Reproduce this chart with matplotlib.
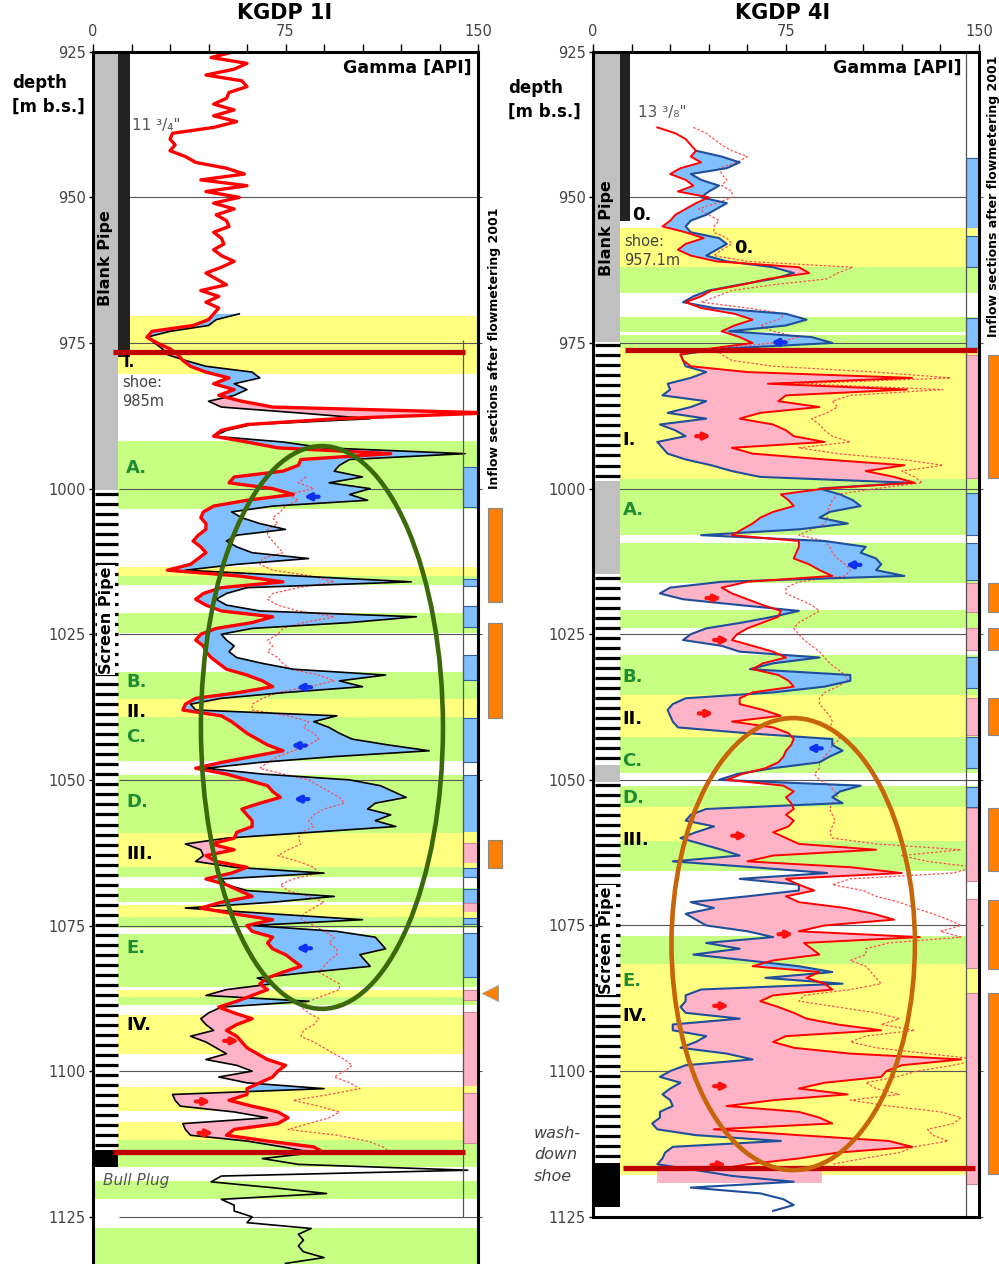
import numpy as np
import matplotlib.pyplot as plt
from matplotlib.patches import Ellipse

plt.rcParams['font.family'] = ['DejaVu Sans']

# colours used in both logs
YELLOW = '#FFFF80'
GREEN = '#C6FF82'
BLUE = '#80C0FF'
PINK = '#FFB3C6'
GRAY = '#C0C0C0'
ORANGE = '#FF8000'
DARKRED = '#C00000'
LABEL_GREEN = '#1E8C32'
band_colours = {'y': YELLOW, 'g': GREEN}
cell_colours = {'b': BLUE, 'p': PINK, 'y': YELLOW}
cell_edges = {'b': '#3060A0', 'p': '#D08898', 'y': YELLOW}

# ================= KGDP 1I =================
# gamma logs, one sample per metre, first sample depth given by *_top
k1_red_top = 924
k1_red = [59, 55, 46, 60, 55, 44, 58, 60, 53, 52,
          47, 55, 47, 56, 47, 31, 30, 32, 30, 36,
          40, 52, 59, 42, 60, 44, 57, 47, 55, 48,
          52, 53, 47, 50, 51, 47, 50, 55, 50, 44,
          48, 52, 42, 49, 44, 49, 47, 45, 39, 23,
          21, 25, 30, 33, 35, 38, 44, 53, 47, 55,
          49, 58, 70, 155, 95, 60, 50, 47, 60, 72,
          116, 81, 80, 74, 55, 53, 70, 78, 60, 47,
          43, 42, 44, 44, 41, 39, 42, 44, 41, 38,
          29, 57, 74, 50, 43, 40, 44, 50, 70, 62,
          48, 42, 40, 43, 44, 46, 49, 52, 60, 66,
          70, 57, 40, 36, 35, 50, 54, 57, 60, 64,
          68, 74, 62, 50, 40, 52, 60, 68, 70, 73,
          65, 58, 60, 62, 62, 56, 55, 46, 55, 44,
          48, 60, 54, 44, 52, 57, 62, 50, 42, 55,
          70, 60, 62, 70, 68, 70, 75, 78, 81, 74,
          68, 65, 68, 62, 56, 49, 55, 62, 56, 52,
          56, 58, 60, 64, 68, 75, 72, 70, 65, 60,
          60, 53, 62, 72, 76, 72, 55, 52, 68, 86, 90]
k1_black_top = 970
k1_black = [57, 48, 45, 30, 21, 24, 27, 29, 36, 44,
            62, 65, 55, 60, 55, 45, 50, 80, 108, 62,
            52, 47, 74, 90, 145, 100, 96, 94, 105, 92,
            108, 100, 107, 70, 54, 58, 65, 75, 56, 52,
            56, 62, 84, 56, 36, 80, 124, 60, 52, 48,
            52, 65, 126, 100, 62, 50, 52, 55, 53, 56,
            66, 78, 114, 96, 105, 75, 50, 38, 40, 95,
            86, 92, 96, 101, 115, 131, 94, 65, 44, 66,
            100, 112, 117, 122, 110, 107, 116, 110, 118, 85,
            52, 36, 42, 43, 40, 55, 90, 50, 52, 60,
            94, 70, 36, 70, 105, 62, 95, 110, 112, 114,
            104, 106, 108, 85, 64, 70, 52, 44, 84, 50,
            45, 42, 44, 47, 38, 44, 48, 52, 44, 56,
            62, 49, 60, 90, 31, 32, 34, 55, 68, 35,
            36, 38, 60, 74, 86, 66, 80, 146, 50, 46,
            70, 91, 50, 55, 55, 62, 60, 85, 80, 82,
            80, 82, 90, 75]
k1_dot_top = 998
k1_dot = [83, 80, 86, 76, 80, 75, 73, 70, 72, 68,
          68, 70, 72, 74, 66, 65, 70, 85, 94, 80,
          70, 68, 72, 80, 94, 82, 74, 72, 68, 70,
          68, 72, 74, 77, 88, 94, 84, 72, 66, 62,
          62, 76, 84, 82, 86, 88, 84, 78, 72, 68,
          65, 74, 84, 88, 92, 96, 98, 90, 86, 84,
          86, 81, 80, 81, 76, 72, 80, 86, 88, 78,
          73, 76, 84, 90, 86, 82, 81, 86, 90, 94,
          92, 95, 95, 92, 90, 88, 92, 96, 96, 90,
          84, 81, 84, 88, 86, 82, 81, 86, 90, 94,
          98, 101, 98, 94, 100, 104, 92, 78, 88, 96,
          92, 84, 76, 95, 107, 113, 116]

# lithology bands
k1_band_top = [970.4, 991.8, 1013.5, 1015.0, 1021.4, 1031.5, 1036.1, 1039.2, 1049.1, 1059.2, 1064.9,
               1068.6, 1071.5, 1073.5, 1076.4, 1086.1, 1087.3, 1090.4, 1102.8, 1108.8, 1111.9,
               1118.8, 1127.0]
k1_band_bot = [980.3, 1003.5, 1015.0, 1016.6, 1024.8, 1036.1, 1039.2, 1046.8, 1059.2, 1064.9, 1066.6,
               1070.9, 1073.5, 1075.5, 1085.5, 1087.3, 1088.7, 1097.0, 1106.8, 1111.9, 1116.5,
               1122.0, 1134.0]
k1_band_col = ['y', 'g', 'y', 'g', 'g', 'g', 'y', 'g', 'g', 'y', 'g',
               'g', 'y', 'g', 'g', 'y', 'g', 'y', 'y', 'y', 'g',
               'g', 'g']

# inflow cells in the right column
k1_cell_top = [996.3, 1015.5, 1020.1, 1028.6, 1036.3, 1039.4, 1049.1, 1058.9, 1060.8, 1064.3, 1065.1,
               1068.8, 1071.2, 1072.7, 1073.7, 1076.3, 1086.0, 1089.9, 1102.5, 1103.7]
k1_cell_bot = [1003.1, 1016.7, 1023.8, 1032.9, 1039.4, 1046.9, 1058.9, 1060.8, 1064.3, 1065.1, 1066.7,
               1071.2, 1072.7, 1073.7, 1074.8, 1083.9, 1087.7, 1102.5, 1103.7, 1112.3]
k1_cell_col = ['b', 'b', 'b', 'b', 'y', 'b', 'b', 'y', 'p', 'y', 'b',
               'b', 'p', 'y', 'b', 'b', 'p', 'p', 'y', 'p']

# inflow sections after flowmetering 2001
k1_flow_top = [1003.3, 1023.1, 1060.3]
k1_flow_bot = [1019.5, 1039.3, 1065.1]

# completion column
k1_pipe_top = [925.0, 1000.3, 1113.6]
k1_pipe_bot = [1000.3, 1113.6, 1116.5]
k1_pipe_kind = ['blank', 'screen', 'plug']

# zone labels
k1_zone_text = ['I.', 'A.', 'B.', 'II.', 'C.', 'D.', 'III.', 'E.', 'IV.']
k1_zone_depth = [978.3, 996.5, 1033.2, 1038.4, 1042.6, 1053.8, 1062.7, 1078.9, 1092.1]
k1_zone_x = [12.0, 13.0, 13.0, 13.0, 13.0, 13.0, 13.0, 13.0, 13.0]

# flow arrows
k1_arrow_depth = [1001.4, 1034.1, 1044.1, 1053.3, 1078.9, 1094.8, 1105.2, 1110.6]
k1_arrow_x = [85, 82, 80, 81, 82, 54, 43, 44]
k1_arrow_dir = ['L', 'L', 'L', 'L', 'L', 'R', 'R', 'R']

# ================= KGDP 4I =================
k4_red_top = 938
k4_red = [25, 32, 36, 38, 40, 38, 42, 34, 30, 36,
          39, 33, 45, 40, 36, 32, 30, 27, 36, 43,
          36, 33, 38, 48, 80, 84, 68, 58, 46, 42,
          36, 42, 55, 62, 55, 50, 57, 62, 45, 34,
          35, 38, 60, 124, 68, 122, 75, 72, 88, 65,
          57, 70, 75, 78, 90, 54, 62, 90, 121, 106,
          117, 125, 90, 73, 76, 78, 70, 65, 62, 58,
          54, 80, 80, 79, 78, 84, 88, 93, 60, 50,
          54, 60, 66, 73, 72, 66, 60, 56, 54, 62,
          70, 75, 66, 62, 72, 76, 78, 62, 57, 57,
          66, 73, 54, 70, 76, 78, 77, 75, 74, 72,
          67, 58, 52, 74, 78, 75, 77, 78, 75, 78,
          76, 70, 75, 80, 110, 70, 60, 100, 120, 75,
          80, 86, 75, 80, 98, 109, 117, 90, 80, 127,
          82, 85, 88, 70, 62, 88, 83, 90, 93, 70,
          65, 72, 78, 83, 95, 112, 75, 70, 78, 100,
          143, 120, 114, 112, 90, 80, 99, 70, 52, 80,
          88, 93, 47, 80, 115, 124, 95, 80, 60, 47]
k4_blue_top = 942
k4_blue = [40, 50, 57, 52, 38, 42, 49, 45, 42, 52,
           48, 44, 38, 36, 38, 49, 52, 48, 44, 52,
           70, 78, 70, 57, 45, 39, 35, 47, 75, 83,
           75, 53, 85, 93, 50, 34, 35, 36, 44, 38,
           29, 30, 27, 44, 38, 29, 44, 26, 32, 36,
           25, 27, 29, 36, 46, 54, 65, 123, 88, 96,
           101, 104, 92, 88, 99, 80, 42, 90, 106, 104,
           110, 112, 110, 121, 50, 30, 26, 35, 57, 80,
           70, 58, 44, 38, 35, 50, 57, 88, 70, 61,
           100, 100, 90, 70, 36, 31, 29, 30, 31, 33,
           60, 93, 93, 97, 92, 88, 70, 56, 49, 104,
           96, 93, 97, 44, 38, 36, 47, 40, 34, 42,
           50, 57, 31, 62, 91, 57, 80, 80, 60, 38,
           47, 36, 40, 44, 60, 70, 44, 57, 39, 60,
           80, 93, 67, 97, 42, 36, 36, 34, 36, 57,
           31, 31, 44, 40, 34, 52, 62, 36, 30, 26,
           34, 30, 27, 30, 31, 26, 26, 23, 25, 40,
           73, 31, 28, 27, 25, 40, 54, 78, 38, 65,
           74, 78, 70]
k4_dot_top = 938
k4_dot = [39, 44, 47, 50, 54, 60, 56, 49, 50, 52,
          50, 54, 54, 48, 41, 45, 49, 47, 47, 52,
          54, 50, 47, 60, 101, 95, 91, 70, 54, 48,
          42, 60, 75, 72, 65, 70, 80, 70, 47, 50,
          54, 70, 110, 139, 80, 136, 100, 93, 95, 91,
          85, 88, 90, 93, 100, 80, 95, 120, 136, 120,
          125, 128, 110, 95, 93, 92, 91, 91, 90, 85,
          80, 90, 92, 93, 95, 98, 100, 98, 80, 75,
          75, 80, 85, 88, 84, 80, 78, 80, 82, 85,
          88, 90, 92, 95, 98, 99, 95, 90, 88, 88,
          90, 92, 93, 92, 94, 96, 93, 92, 90, 88,
          88, 86, 88, 92, 94, 95, 93, 92, 93, 94,
          93, 92, 93, 110, 143, 120, 130, 148, 140, 100,
          93, 105, 110, 119, 125, 132, 138, 143, 135, 143,
          115, 106, 106, 100, 106, 108, 110, 112, 100, 82,
          80, 95, 110, 119, 112, 125, 106, 100, 110, 130,
          150, 140, 126, 118, 106, 110, 119, 100, 115, 135,
          143, 140, 130, 132, 138, 125, 119, 105, 93]

k4_band_top = [955.2, 961.9, 970.5, 973.6, 975.8, 998.3, 1009.3, 1020.8, 1028.6, 1035.5, 1042.7,
               1051.0, 1054.6, 1060.5, 1076.8, 1081.6]
k4_band_bot = [961.9, 966.4, 973.1, 975.8, 998.3, 1007.9, 1016.2, 1023.9, 1035.5, 1042.7, 1048.9,
               1054.6, 1060.5, 1065.6, 1081.6, 1117.9]
k4_band_col = ['y', 'g', 'g', 'g', 'y', 'g', 'g', 'g', 'g', 'y', 'g',
               'g', 'y', 'g', 'g', 'y']

k4_cell_top = [943.3, 955.2, 956.6, 970.8, 977.0, 1000.7, 1009.3, 1016.2, 1023.9, 1028.9, 1036.0,
               1042.7, 1051.3, 1054.9, 1070.4, 1086.6]
k4_cell_bot = [955.2, 956.6, 961.9, 975.8, 998.1, 1007.9, 1015.7, 1021.2, 1027.7, 1034.3, 1042.3,
               1048.0, 1054.7, 1067.3, 1082.3, 1119.4]
k4_cell_col = ['b', 'y', 'b', 'b', 'p', 'b', 'b', 'p', 'p', 'b', 'p',
               'b', 'b', 'p', 'p', 'p']

k4_flow_top = [977.0, 1016.2, 1023.9, 1036.0, 1054.9, 1070.7, 1086.6]
k4_flow_bot = [998.1, 1021.2, 1027.7, 1042.3, 1065.6, 1082.4, 1117.7]

k4_pipe_top = [925.0, 974.8, 998.7, 1014.7, 1047.5, 1050.3, 1115.8]
k4_pipe_bot = [974.8, 998.7, 1014.7, 1047.5, 1050.3, 1115.8, 1123.3]
k4_pipe_kind = ['blank', 'screen', 'blank', 'screen', 'blank', 'screen', 'plug']

k4_zone_text = ['I.', 'A.', 'B.', 'II.', 'C.', 'D.', 'III.', 'E.', 'IV.']
k4_zone_depth = [991.7, 1003.7, 1032.3, 1039.5, 1046.7, 1053.2, 1060.3, 1084.5, 1090.5]
k4_zone_x = [11.5, 11.5, 11.5, 11.5, 11.5, 11.5, 11.5, 11.5, 11.5]

k4_arrow_depth = [974.9, 1013.1, 1044.6, 991.0, 1018.8, 1026.0, 1038.6, 1059.6, 1076.5, 1088.8,
                  1102.6, 1116.1]
k4_arrow_x = [72, 101, 86, 43, 47, 50, 44, 57, 75, 50, 50, 49]
k4_arrow_dir = ['L', 'L', 'L', 'R', 'R', 'R', 'R', 'R', 'R', 'R', 'R', 'R']


def overlap(top_a, a, top_b, b):
    """Return common depths and the two logs cut to them."""
    lo = max(top_a, top_b)
    hi = min(top_a + len(a) - 1, top_b + len(b) - 1)
    d = np.arange(lo, hi + 1)
    va = np.array(a[lo - top_a:hi - top_a + 1], dtype=float)
    vb = np.array(b[lo - top_b:hi - top_b + 1], dtype=float)
    return d, va, vb


def setup_axis(ax, bottom):
    ax.set_xlim(0, 150)
    ax.set_ylim(bottom, 925)
    ax.xaxis.tick_top()
    ax.set_xticks([0, 75, 150])
    ax.set_xticks(np.arange(0, 151, 15), minor=True)
    ax.tick_params(axis='x', which='both', direction='out', length=6, width=1,
                   labelsize=10.5, labelcolor='#444', pad=3)
    ax.set_yticks(np.arange(925, 1126, 25))
    ax.tick_params(axis='y', direction='out', length=3, width=1,
                   labelsize=10.5, labelcolor='#444', pad=2)
    for s in ax.spines.values():
        s.set_linewidth(2.2)
        s.set_zorder(20)


def draw_common(ax, band_top, band_bot, band_col, cell_top, cell_bot, cell_col, col_x,
                pipe_top, pipe_bot, pipe_kind, pipe_w):
    # lithology bands
    ax.barh(band_top, 150, height=np.subtract(band_bot, band_top), left=0, align='edge',
            color=[band_colours[c] for c in band_col], linewidth=0, zorder=0.5)
    # depth grid
    ax.hlines(np.arange(950, 1126, 25), 10, 151.5, color='#555', lw=0.8, zorder=1.5, clip_on=False)
    # inflow column
    ax.barh(cell_top, 150 - col_x, height=np.subtract(cell_bot, cell_top), left=col_x, align='edge',
            color=[cell_colours[c] for c in cell_col], edgecolor=[cell_edges[c] for c in cell_col],
            linewidth=0.8, zorder=4)
    # completion column
    for t, b, k in zip(pipe_top, pipe_bot, pipe_kind):
        if k == 'blank':
            ax.barh(t, pipe_w, height=b - t, left=0, align='edge', color=GRAY, lw=0, zorder=4)
        elif k == 'plug':
            ax.barh(t, pipe_w, height=b - t, left=0, align='edge', color='black', lw=0, zorder=4)
        else:
            ax.barh(t, pipe_w, height=b - t, left=0, align='edge', color='white', lw=0, zorder=4)
            ax.hlines(np.arange(t + 0.6, b, 1.72), 0.6, pipe_w, color='black', lw=2.3, zorder=4.1)


def draw_arrows(ax, depths, xs, dirs):
    for d, x, k in zip(depths, xs, dirs):
        if k == 'R':
            ax.annotate('', xy=(x + 4, d), xytext=(x - 4, d), zorder=6,
                        arrowprops=dict(arrowstyle='-|>', color='#FF1010', lw=3, mutation_scale=9))
        else:
            ax.annotate('', xy=(x - 4, d), xytext=(x + 4, d), zorder=6,
                        arrowprops=dict(arrowstyle='-|>', color='#1030F0', lw=3, mutation_scale=9))


def draw_flow_bars(ax, tops, bots, x0, w):
    bars = ax.barh(tops, w, height=np.subtract(bots, tops), left=x0, align='edge',
                   color=ORANGE, edgecolor='#888', linewidth=0.8, zorder=5)
    for p in bars:
        p.set_clip_on(False)


pipe_box = dict(facecolor='white', edgecolor='none', pad=1.0)

fig = plt.figure(figsize=(9.99, 12.64), dpi=100)
ax1 = fig.add_axes([93 / 999, 0, 385 / 999, (1264 - 51.7) / 1264])
ax2 = fig.add_axes([593 / 999, (1264 - 1216.7) / 1264, 386 / 999, 1165 / 1264])

# ---------------- KGDP 1I ----------------
setup_axis(ax1, 1133.1)
ax1.spines['bottom'].set_visible(False)
draw_common(ax1, k1_band_top, k1_band_bot, k1_band_col, k1_cell_top, k1_cell_bot, k1_cell_col, 144.1,
            k1_pipe_top, k1_pipe_bot, k1_pipe_kind, 9.7)
ax1.vlines(144.1, 974.5, 1125, color='#555', lw=0.9, zorder=4.5)
ax1.barh(925, 4.7, height=52.4, left=9.7, align='edge', color='#222', lw=0, zorder=4.2)

d, r, k = overlap(k1_red_top, k1_red, k1_black_top, k1_black)
ax1.fill_betweenx(d, r, k, where=k >= r, interpolate=True, color=BLUE, lw=0, zorder=2)
ax1.fill_betweenx(d, r, k, where=k <= r, interpolate=True, color=PINK, lw=0, zorder=2)
ax1.plot(k1_dot, np.arange(len(k1_dot)) + k1_dot_top, color='#FF5050', lw=0.9,
         ls=(0, (2, 1.5)), zorder=2.5)
ax1.plot(k1_black, np.arange(len(k1_black)) + k1_black_top, color='black', lw=1.2, zorder=3)
ax1.plot(k1_red, np.arange(len(k1_red)) + k1_red_top, color='#FF0000', lw=2.4, zorder=3.1)
draw_arrows(ax1, k1_arrow_depth, k1_arrow_x, k1_arrow_dir)

ax1.hlines([976.6, 1113.9], 7.8, 145, color=DARKRED, lw=3.8, zorder=6)
ax1.add_patch(Ellipse((89.2, 1041.0), 94.3, 96.6, fill=False, edgecolor='#3C6A0A', lw=3.3, zorder=7))
draw_flow_bars(ax1, k1_flow_top, k1_flow_bot, 153.9, 5.4)
ax1.plot([154.6], [1086.6], marker='<', ms=11, color=ORANGE, mec='#999', mew=0.6,
         clip_on=False, zorder=5)

for t, dz, x in zip(k1_zone_text, k1_zone_depth, k1_zone_x):
    c = 'black' if t.startswith('I') else LABEL_GREEN
    fs = 11 if t == 'I.' else 13
    ax1.text(x, dz, t, fontsize=fs, fontweight='bold', color=c, va='center', ha='left', zorder=8)

ax1.text(4.7, 960.4, 'Blank Pipe', rotation=90, fontsize=11.5, fontweight='bold',
         ha='center', va='center', zorder=8)
ax1.text(5.2, 1022.6, 'Screen Pipe', rotation=90, fontsize=11.5, fontweight='bold',
         ha='center', va='center', zorder=8, bbox=pipe_box)
ax1.text(15.2, 937.6, '11 ³/₄"', fontsize=11, color='#555', va='center', zorder=8)
ax1.text(11.5, 980.5, 'shoe:\n985m', fontsize=10.5, color='#444', va='top', linespacing=1.35, zorder=8)
ax1.text(3.9, 1118.7, 'Bull Plug', fontsize=11, style='italic', color='#555', va='center', zorder=8)
ax1.text(147.6, 927.8, 'Gamma [API]', fontsize=12.5, fontweight='bold', ha='right', va='center', zorder=8)
ax1.text(156.6, 975.9, 'Inflow sections after flowmetering 2001', rotation=90, fontsize=9,
         fontweight='bold', ha='center', va='center', clip_on=False)

# ---------------- KGDP 4I ----------------
setup_axis(ax2, 1125)
draw_common(ax2, k4_band_top, k4_band_bot, k4_band_col, k4_cell_top, k4_cell_bot, k4_cell_col, 145,
            k4_pipe_top, k4_pipe_bot, k4_pipe_kind, 10.5)
ax2.vlines(145, 925, 1125, color='#555', lw=0.9, zorder=4.5)
ax2.barh(925, 3.9, height=29.0, left=10.5, align='edge', color='#222', lw=0, zorder=4.2)

d, r, k = overlap(k4_red_top, k4_red, k4_blue_top, k4_blue)
ax2.fill_betweenx(d, r, k, where=k >= r, interpolate=True, color=BLUE, lw=0, zorder=2)
ax2.fill_betweenx(d, r, k, where=k <= r, interpolate=True, color=PINK, lw=0, zorder=2)
ax2.barh(1116.7, 64, height=2.6, left=25, align='edge', color=PINK, lw=0, zorder=1.8)
ax2.plot(k4_dot, np.arange(len(k4_dot)) + k4_dot_top, color='#FF5050', lw=0.9,
         ls=(0, (2, 1.5)), zorder=2.5)
ax2.plot(k4_blue, np.arange(len(k4_blue)) + k4_blue_top, color='#1F4E9A', lw=1.5, zorder=3)
ax2.plot(k4_red, np.arange(len(k4_red)) + k4_red_top, color='#FF0000', lw=1.4, zorder=3.1)
draw_arrows(ax2, k4_arrow_depth, k4_arrow_x, k4_arrow_dir)

ax2.hlines(976.2, 12.4, 149.2, color=DARKRED, lw=3.8, zorder=6)
ax2.hlines(1116.7, 11.6, 148.4, color=DARKRED, lw=3.8, zorder=6)
ax2.add_patch(Ellipse((77.8, 1078.2), 94.6, 77.6, fill=False, edgecolor='#C8640A', lw=3.3, zorder=7))
draw_flow_bars(ax2, k4_flow_top, k4_flow_bot, 153.5, 8)

for t, dz, x in zip(k4_zone_text, k4_zone_depth, k4_zone_x):
    c = 'black' if t.startswith('I') else LABEL_GREEN
    ax2.text(x, dz, t, fontsize=13, fontweight='bold', color=c, va='center', ha='left', zorder=8)

ax2.text(15.2, 953.0, '0.', fontsize=13, fontweight='bold', va='center', zorder=8)
ax2.text(55, 958.7, '0.', fontsize=13, fontweight='bold', va='center', zorder=8)
ax2.text(5.2, 955.3, 'Blank Pipe', rotation=90, fontsize=11.5, fontweight='bold',
         ha='center', va='center', zorder=8)
ax2.text(5.4, 1077.5, 'Screen Pipe', rotation=90, fontsize=11.5, fontweight='bold',
         ha='center', va='center', zorder=8, bbox=pipe_box)
ax2.text(17.5, 935.4, '13 ³/₈"', fontsize=11, color='#555', va='center', zorder=8)
ax2.text(12.0, 956.3, 'shoe:\n957.1m', fontsize=10.5, color='#444', va='top', linespacing=1.35, zorder=8)
ax2.text(-23, 1109.4, 'wash-\ndown\nshoe', fontsize=11.5, style='italic', color='#444',
         va='top', linespacing=1.55, clip_on=False)
ax2.text(143.4, 927.8, 'Gamma [API]', fontsize=12.5, fontweight='bold', ha='right', va='center', zorder=8)
ax2.text(155.5, 949.8, 'Inflow sections after flowmetering 2001', rotation=90, fontsize=9,
         fontweight='bold', ha='center', va='center', clip_on=False)

# titles and depth labels
fig.text(285 / 999, 1 - 13 / 1264, 'KGDP 1I', fontsize=15, fontweight='bold', ha='center', va='center')
fig.text(783 / 999, 1 - 13 / 1264, 'KGDP 4I', fontsize=15, fontweight='bold', ha='center', va='center')
fig.text(12 / 999, 1 - 95 / 1264, 'depth\n[m b.s.]', fontsize=12, fontweight='bold', ha='left',
         va='center', linespacing=1.4)
fig.text(508 / 999, 1 - 100 / 1264, 'depth\n[m b.s.]', fontsize=12, fontweight='bold', ha='left',
         va='center', linespacing=1.4)

fig.savefig('out.png', dpi=100)
